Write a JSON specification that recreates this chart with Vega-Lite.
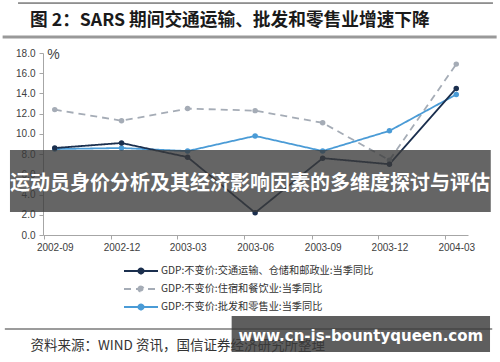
{
  "$schema": "https://vega.github.io/schema/vega-lite/v6.json",
  "width": 425,
  "height": 182,
  "autosize": "none",
  "padding": {"left": 43, "top": 53, "right": 32, "bottom": 127},
  "background": "white",
  "title": {
    "text": "图 2：SARS 期间交通运输、批发和零售业增速下降",
    "anchor": "start",
    "frame": "group",
    "dx": -13,
    "dy": 27,
    "offset": 0,
    "font": "Noto Sans CJK SC",
    "fontSize": 17.7,
    "fontWeight": "bold",
    "color": "#1a1a1a"
  },
  "config": {
    "view": {"stroke": null},
    "font": "Liberation Sans",
    "axis": {"labelFont": "Liberation Sans", "labelFontSize": 10, "labelColor": "#404040", "domainColor": "#a6a6a6", "tickColor": "#a6a6a6", "grid": false, "labelOverlap": false}
  },
  "resolve": {"axis": {"x": "independent", "y": "independent"}},
  "layer": [
    {
      "data": {"values": [
        {"date": "2002-09-01", "series": "GDP:不变价:住宿和餐饮业:当季同比", "value": 12.4},
        {"date": "2002-12-01", "series": "GDP:不变价:住宿和餐饮业:当季同比", "value": 11.3},
        {"date": "2003-03-01", "series": "GDP:不变价:住宿和餐饮业:当季同比", "value": 12.5},
        {"date": "2003-06-01", "series": "GDP:不变价:住宿和餐饮业:当季同比", "value": 12.3},
        {"date": "2003-09-01", "series": "GDP:不变价:住宿和餐饮业:当季同比", "value": 11.1},
        {"date": "2003-12-01", "series": "GDP:不变价:住宿和餐饮业:当季同比", "value": 7.4},
        {"date": "2004-03-01", "series": "GDP:不变价:住宿和餐饮业:当季同比", "value": 16.9},
        {"date": "2002-09-01", "series": "GDP:不变价:批发和零售业:当季同比", "value": 8.5},
        {"date": "2002-12-01", "series": "GDP:不变价:批发和零售业:当季同比", "value": 8.6},
        {"date": "2003-03-01", "series": "GDP:不变价:批发和零售业:当季同比", "value": 8.3},
        {"date": "2003-06-01", "series": "GDP:不变价:批发和零售业:当季同比", "value": 9.8},
        {"date": "2003-09-01", "series": "GDP:不变价:批发和零售业:当季同比", "value": 8.3},
        {"date": "2003-12-01", "series": "GDP:不变价:批发和零售业:当季同比", "value": 10.3},
        {"date": "2004-03-01", "series": "GDP:不变价:批发和零售业:当季同比", "value": 13.9},
        {"date": "2002-09-01", "series": "GDP:不变价:交通运输、仓储和邮政业:当季同比", "value": 8.6},
        {"date": "2002-12-01", "series": "GDP:不变价:交通运输、仓储和邮政业:当季同比", "value": 9.1},
        {"date": "2003-03-01", "series": "GDP:不变价:交通运输、仓储和邮政业:当季同比", "value": 7.7},
        {"date": "2003-06-01", "series": "GDP:不变价:交通运输、仓储和邮政业:当季同比", "value": 2.2},
        {"date": "2003-09-01", "series": "GDP:不变价:交通运输、仓储和邮政业:当季同比", "value": 7.6},
        {"date": "2003-12-01", "series": "GDP:不变价:交通运输、仓储和邮政业:当季同比", "value": 7.0},
        {"date": "2004-03-01", "series": "GDP:不变价:交通运输、仓储和邮政业:当季同比", "value": 14.5}
      ]},
      "mark": {"type": "line", "strokeWidth": 1.8, "point": {"filled": true, "size": 30}},
      "encoding": {
        "x": {
          "field": "date", "type": "temporal",
          "scale": {"type": "utc", "domain": [{"year": 2002, "month": 8, "date": 16, "utc": true}, {"year": 2004, "month": 3, "date": 17, "utc": true}]},
          "axis": {
            "values": [
              {"year": 2002, "month": 9, "date": 1, "utc": true},
              {"year": 2002, "month": 12, "date": 1, "utc": true},
              {"year": 2003, "month": 3, "date": 1, "utc": true},
              {"year": 2003, "month": 6, "date": 1, "utc": true},
              {"year": 2003, "month": 9, "date": 1, "utc": true},
              {"year": 2003, "month": 12, "date": 1, "utc": true},
              {"year": 2004, "month": 3, "date": 1, "utc": true}
            ],
            "format": "%Y-%m",
            "labelAngle": 0,
            "tickSize": 4,
            "tickOffset": -11,
            "labelOffset": 11,
            "labelPadding": 3,
            "title": "资料来源：WIND 资讯，国信证券经济研究所整理",
            "titleFont": "Noto Sans CJK SC",
            "titleFontSize": 13.5,
            "titleFontWeight": "normal",
            "titleColor": "#333333",
            "titleX": -13,
            "titleY": 110,
            "titleAlign": "left",
            "titleAnchor": "start",
            "titleBaseline": "middle"
          }
        },
        "y": {
          "field": "value", "type": "quantitative",
          "scale": {"domain": [0, 18], "nice": false},
          "axis": {
            "values": [0, 2, 4, 6, 8, 10, 12, 14, 16, 18],
            "format": ".1f",
            "labelOverlap": false,
            "tickSize": 4,
            "labelPadding": 4,
            "title": "%",
            "titleFont": "Liberation Sans",
            "titleFontSize": 14,
            "titleFontWeight": "normal",
            "titleColor": "#444444",
            "titleAngle": 0,
            "titleX": 10,
            "titleY": 1,
            "titleAlign": "center",
            "titleBaseline": "middle"
          }
        },
        "color": {
          "field": "series", "type": "nominal",
          "scale": {
            "domain": ["GDP:不变价:交通运输、仓储和邮政业:当季同比", "GDP:不变价:住宿和餐饮业:当季同比", "GDP:不变价:批发和零售业:当季同比"],
            "range": ["#1b2f4e", "#a5acb6", "#4a9bd6"]
          },
          "legend": {
            "title": null, "orient": "none", "legendX": 92, "legendY": 212,
            "symbolType": "M-3.4,0H3.4M-0.5,0A0.5,0.5,0,1,1,0.5,0A0.5,0.5,0,1,1,-0.5,0",
            "symbolSize": 100, "symbolStrokeWidth": 2, "labelOffset": 14, "rowPadding": 4,
            "labelFont": "Noto Sans CJK SC", "labelFontSize": 10.2, "labelColor": "#333333", "labelLimit": 400
          }
        },
        "strokeDash": {
          "field": "series", "type": "nominal",
          "scale": {
            "domain": ["GDP:不变价:交通运输、仓储和邮政业:当季同比", "GDP:不变价:住宿和餐饮业:当季同比", "GDP:不变价:批发和零售业:当季同比"],
            "range": [[1, 0], [7, 5], [1, 0]]
          },
          "legend": {
            "title": null, "orient": "none", "legendX": 92, "legendY": 212,
            "symbolType": "M-3.4,0H3.4M-0.5,0A0.5,0.5,0,1,1,0.5,0A0.5,0.5,0,1,1,-0.5,0",
            "symbolSize": 100, "symbolStrokeWidth": 2, "labelOffset": 14, "rowPadding": 4,
            "labelFont": "Noto Sans CJK SC", "labelFontSize": 10.2, "labelColor": "#333333", "labelLimit": 400
          }
        }
      }
    },
    {
      "data": {"values": [{}]},
      "mark": {"type": "rule", "color": "#333333", "strokeWidth": 1},
      "encoding": {
        "x": {"datum": {"year": 2002, "month": 7, "date": 13, "utc": true}, "type": "temporal", "axis": null},
        "x2": {"datum": {"year": 2004, "month": 4, "date": 20, "utc": true}},
        "y": {"datum": 22.94, "type": "quantitative", "axis": null}
      }
    },
    {
      "data": {"values": [{}]},
      "mark": {"type": "rule", "color": "#999999", "strokeWidth": 3},
      "encoding": {
        "x": {"datum": {"year": 2002, "month": 6, "date": 22, "utc": true}, "type": "temporal", "axis": null},
        "x2": {"datum": {"year": 2004, "month": 4, "date": 25, "utc": true}},
        "y": {"datum": 19.58, "type": "quantitative", "axis": null}
      }
    },
    {
      "data": {"values": [{}]},
      "mark": {"type": "rule", "color": "#7a7a7a", "strokeWidth": 1.5},
      "encoding": {
        "x": {"datum": {"year": 2002, "month": 6, "date": 25, "utc": true}, "type": "temporal", "axis": null},
        "x2": {"datum": {"year": 2004, "month": 4, "date": 19, "utc": true}},
        "y": {"datum": -9.3, "type": "quantitative", "axis": null}
      }
    },
    {
      "data": {"values": [{}]},
      "mark": {"type": "rect", "color": "#3a3a3a", "opacity": 0.78},
      "encoding": {
        "x": {"datum": {"year": 2002, "month": 7, "date": 2, "utc": true}, "type": "temporal", "axis": null},
        "x2": {"datum": {"year": 2004, "month": 4, "date": 17, "utc": true}},
        "y": {"datum": 8.41, "type": "quantitative", "axis": null},
        "y2": {"datum": 2.27}
      }
    },
    {
      "data": {"values": [{}]},
      "mark": {"type": "text", "text": "运动员身价分析及其经济影响因素的多维度探讨与评估", "font": "Noto Sans CJK SC", "fontSize": 20, "fontWeight": "bold", "color": "white", "align": "center", "baseline": "middle"},
      "encoding": {
        "x": {"datum": {"year": 2003, "month": 5, "date": 25, "utc": true}, "type": "temporal", "axis": null},
        "y": {"datum": 5.04, "type": "quantitative", "axis": null}
      }
    },
    {
      "data": {"values": [{}]},
      "mark": {"type": "rect", "color": "#3a3a3a", "opacity": 0.82},
      "encoding": {
        "x": {"datum": {"year": 2003, "month": 4, "date": 30, "utc": true}, "type": "temporal", "axis": null},
        "x2": {"datum": {"year": 2004, "month": 4, "date": 16, "utc": true}},
        "y": {"datum": -8.01, "type": "quantitative", "axis": null},
        "y2": {"datum": -11.57}
      }
    },
    {
      "data": {"values": [{}]},
      "mark": {"type": "text", "text": "www.cn-is-bountyqueen.com", "font": "DejaVu Sans", "fontSize": 15, "fontWeight": "bold", "color": "white", "align": "center", "baseline": "middle"},
      "encoding": {
        "x": {"datum": {"year": 2003, "month": 10, "date": 23, "utc": true}, "type": "temporal", "axis": null},
        "y": {"datum": -9.99, "type": "quantitative", "axis": null}
      }
    }
  ]
}
